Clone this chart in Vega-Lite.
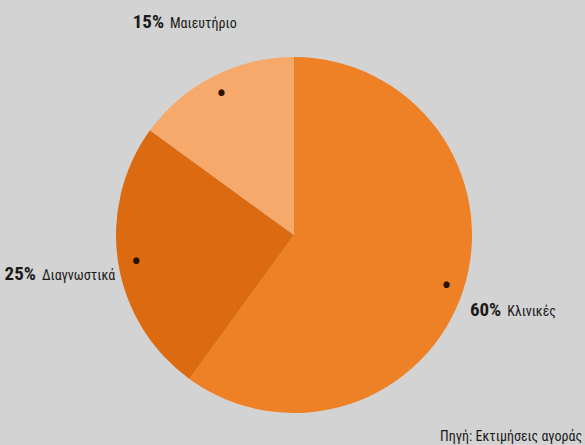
{
  "$schema": "https://vega.github.io/schema/vega-lite/v6.json",
  "width": 582,
  "height": 420,
  "padding": {"left": 3, "top": 25, "right": 0, "bottom": 0},
  "autosize": {"type": "none"},
  "background": "#d3d3d3",
  "config": {"view": {"stroke": null}, "font": "Noto Sans ExtraCondensed, Noto Sans Condensed, Roboto Condensed, DejaVu Sans Condensed, sans-serif"},
  "title": {
    "text": "Πηγή: Εκτιμήσεις αγοράς",
    "orient": "bottom",
    "anchor": "end",
    "align": "right",
    "offset": -15,
    "dx": -3,
    "fontSize": 14,
    "fontWeight": "normal",
    "color": "#1a1a1a",
    "font": "Noto Sans ExtraCondensed, Noto Sans Condensed, Roboto Condensed, DejaVu Sans Condensed, sans-serif"
  },
  "data": {
    "values": [
      {"category": "Κλινικές", "share": 0.60},
      {"category": "Διαγνωστικά", "share": 0.25},
      {"category": "Μαιευτήριο", "share": 0.15}
    ]
  },
  "encoding": {
    "theta": {"field": "share", "type": "quantitative", "stack": true},
    "order": {"field": "share", "type": "quantitative", "sort": "descending"},
    "detail": {"field": "category", "type": "nominal"}
  },
  "layer": [
    {
      "mark": {"type": "arc", "outerRadius": 178},
      "encoding": {
        "color": {
          "field": "category",
          "type": "nominal",
          "scale": {"domain": ["Κλινικές", "Διαγνωστικά", "Μαιευτήριο"], "range": ["#ee8126", "#db6a11", "#f6a96a"]},
          "legend": null
        }
      }
    },
    {
      "mark": {"type": "text", "radius": 160, "text": "●", "fontSize": 9, "color": "#2a1300", "align": "center", "baseline": "middle"}
    },
    {
      "mark": {"type": "text", "radius": 240, "align": "right", "baseline": "alphabetic", "dx": -21, "dy": 7, "fontSize": 19, "fontWeight": "bold", "color": "#1a1a1a"},
      "encoding": {"text": {"field": "share", "type": "quantitative", "format": ".0%"}}
    },
    {
      "mark": {"type": "text", "radius": 240, "align": "left", "baseline": "alphabetic", "dx": -15, "dy": 7, "fontSize": 14, "color": "#1a1a1a"},
      "encoding": {"text": {"field": "category", "type": "nominal"}}
    }
  ]
}
